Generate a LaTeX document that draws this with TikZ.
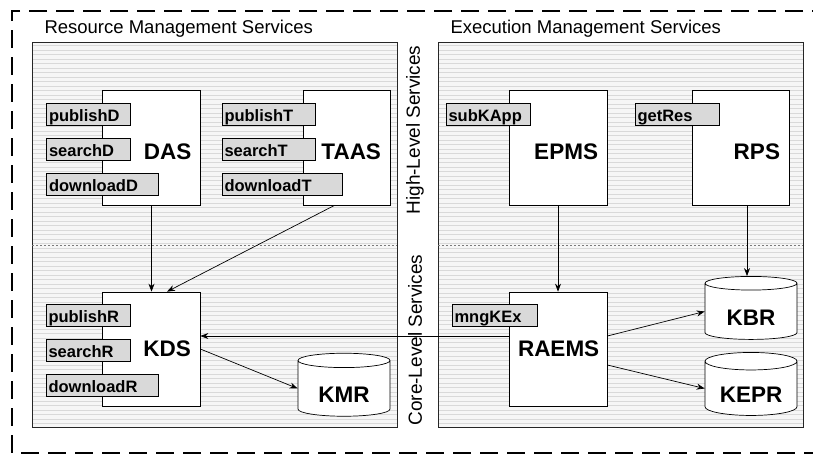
\documentclass[tikz,border=0pt]{standalone}
\usepackage{fontspec}
\setmainfont{Liberation Sans}
\usetikzlibrary{arrows.meta, positioning, shapes.geometric}
\definecolor{tabgray}{HTML}{D9D9D9}
\definecolor{panelgray}{HTML}{F6F6F6}
\definecolor{brick}{HTML}{D9D9D9}
\definecolor{divgray}{HTML}{7A7A7A}
\tikzset{
	panel/.style={draw=black!85, line width=0.8pt},
	comp/.style={draw, line width=0.7pt, fill=white, minimum height=115pt,
		inner xsep=9pt, text width=80pt, align=right,
		font=\fontsize{22.5}{26}\selectfont\bfseries},
	lowtext/.style={text height=24pt, text depth=0pt},
	iface/.style={draw, line width=0.7pt, fill=tabgray, anchor=north west,
		minimum height=22pt, inner ysep=0pt, inner xsep=2.5pt,
		text height=15pt, text depth=1pt, align=left,
		font=\fontsize{16.5}{18}\selectfont\bfseries},
	store/.style={cylinder, shape border rotate=90, aspect=0.28, draw,
		line width=0.7pt, fill=white, minimum width=92pt, minimum height=63pt,
		inner sep=0pt, text height=28pt, text depth=0pt,
		font=\fontsize{22.5}{26}\selectfont\bfseries},
	arr/.style={-{Stealth[length=8pt, width=6pt]}, line width=0.7pt},
	title/.style={anchor=base west, font=\fontsize{18.5}{21}\selectfont},
	layer/.style={rotate=90, font=\fontsize{19}{22}\selectfont},
	divider/.style={divgray, line width=0.8pt, dash pattern=on 2pt off 2pt},
}
\begin{document}
\begin{tikzpicture}[x=1pt, y=-1pt]
	\useasboundingbox (0,0) rectangle (813,455);
	\clip (0,0) rectangle (813,455);
	\fill[white] (0,0) rectangle (813,455);
	% outer frame, open to the right
	\draw[line width=2pt, dash pattern=on 18pt off 9pt] (830,11) -- (12,11) -- (12,453) -- (830,453);

	% the two panels
	\foreach \xa/\xb in {32/397, 438/803} {
		\fill[panelgray] (\xa,42) rectangle (\xb,427);
		\foreach \y in {45.5,50,...,425}
			\draw[brick, line width=0.5pt] (\xa,\y) -- (\xb,\y);
		\draw[panel] (\xa,42) rectangle (\xb,427);
		\draw[divider] (\xa,245) -- (\xb,245);
	}
	\node[title] (rmtitle) at (41,33) {Resource Management Services};
	\node[title] (emtitle) at (447,33) {Execution Management Services};
	\node[layer] (high) at (415,130) {High-Level Services};
	\node[layer] (core) at (415,340) {Core-Level Services};

	% high-level services
	\node[comp, lowtext] (das) at (151.5,147.5) {DAS};
	\node[iface, text width=79pt] (pubd) at ([xshift=-56pt, yshift=-13pt]das.north west) {publishD};
	\node[iface, text width=79pt] (srcd) at ([xshift=-56pt, yshift=-48pt]das.north west) {searchD};
	\node[iface, text width=107pt] (dwnd) at ([xshift=-56pt, yshift=-83pt]das.north west) {downloadD};

	\node[comp, lowtext, text width=69pt] (taas) at (346.5,147.5) {TAAS};
	\node[iface, text width=88pt] (pubt) at ([xshift=-81pt, yshift=-13pt]taas.north west) {publishT};
	\node[iface, text width=88pt] (srct) at ([xshift=-81pt, yshift=-48pt]taas.north west) {searchT};
	\node[iface, text width=115pt] (dwnt) at ([xshift=-81pt, yshift=-83pt]taas.north west) {downloadT};

	\node[comp, lowtext] (epms) at (558,147.5) {EPMS};
	\node[iface, text width=79pt] (subk) at ([xshift=-63pt, yshift=-13pt]epms.north west) {subKApp};

	\node[comp, lowtext, text width=79pt] (rps) at (740.5,147.5) {RPS};
	\node[iface, text width=79pt] (getr) at ([xshift=-57pt, yshift=-13pt]rps.north west) {getRes};

	% core-level services
	\node[comp, minimum height=114pt] (kds) at (151,349) {KDS};
	\node[iface, text width=79pt] (pubr) at ([xshift=-56pt, yshift=-12pt]kds.north west) {publishR};
	\node[iface, text width=79pt] (srcr) at ([xshift=-56pt, yshift=-47pt]kds.north west) {searchR};
	\node[iface, text width=107pt] (dwnr) at ([xshift=-56pt, yshift=-82pt]kds.north west) {downloadR};

	\node[comp, minimum height=114pt] (raems) at (558,349) {RAEMS};
	\node[iface, text width=80pt] (mngk) at ([xshift=-57pt, yshift=-12pt]raems.north west) {mngKEx};

	\node[store] (kmr) at (344,388.5) {KMR};
	\node[store] (kbr) at (751,311.5) {KBR};
	\node[store] (kepr) at (751,388.5) {KEPR};

	% calls between services
	\draw[arr] (das.south) -- (das.south |- kds.north);
	\draw[arr] ([xshift=-12pt]taas.south) -- ([xshift=16pt]kds.north);
	\draw[arr] (epms.south) -- (raems.north);
	\draw[arr] ([xshift=6.5pt]rps.south) -- ([xshift=6.5pt]rps.south |- kbr.north);
	\draw[arr] ([yshift=13pt]raems.west) -- ([yshift=13pt]kds.east);
	\draw[arr] (kds.east) -- (kmr.west);
	\draw[arr] ([yshift=13pt]raems.east) -- (kbr.west);
	\draw[arr] ([yshift=-16pt]raems.east) -- (kepr.west);
\end{tikzpicture}
\end{document}
